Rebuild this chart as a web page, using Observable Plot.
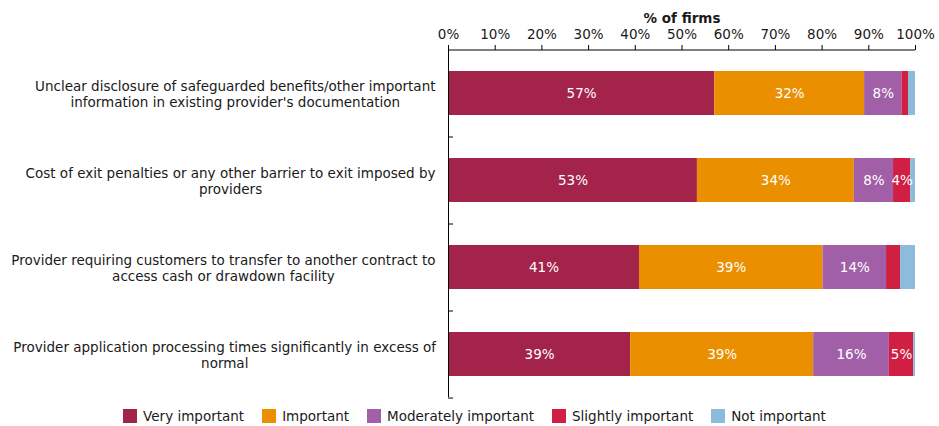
<!DOCTYPE html>
<html>
<head>
<meta charset="utf-8">
<script src="https://cdn.jsdelivr.net/npm/d3@7"></script>
<script src="https://cdn.jsdelivr.net/npm/@observablehq/plot@0.6"></script>
<style>
  html, body { margin: 0; padding: 0; background: #fff; }
  body { font-family: "DejaVu Sans", Verdana, sans-serif; width: 939px; }
  .leg-swatches-wrap { justify-content: center !important; min-height: 31px !important; margin: 0 !important; padding-left: 10px; font-size: 13.5px !important; font-family: "DejaVu Sans", Verdana, sans-serif !important; color: #1a1a1a; }
  .leg-swatch { margin-right: 18px !important; }
  .leg-swatch:last-child { margin-right: 0 !important; }
  .leg-swatch > svg { margin-right: 6px !important; }
</style>
</head>
<body>
<div id="chart"></div>
<script>
const categories = [
  "Unclear disclosure of safeguarded benefits/other important\ninformation in existing provider's documentation",
  "Cost of exit penalties or any other barrier to exit imposed by\nproviders",
  "Provider requiring customers to transfer to another contract to\naccess cash or drawdown facility",
  "Provider application processing times significantly in excess of\nnormal"
];
const levels = ["Very important", "Important", "Moderately important", "Slightly important", "Not important"];
const colors = ["#a3234a", "#e98f00", "#a15fa8", "#d01f42", "#8bbcdc"];

const veryImportant       = [57.0, 53.3, 40.9, 39.0];
const important           = [32.1, 33.6, 39.3, 39.2];
const moderatelyImportant = [8.0, 8.4, 13.6, 16.2];
const slightlyImportant   = [1.4, 3.7, 3.0, 5.2];
const notImportant        = [1.5, 1.0, 3.2, 0.4];

const xTicks = [0, 10, 20, 30, 40, 50, 60, 70, 80, 90, 100];
const xTitle = "% of firms";

const series = [veryImportant, important, moderatelyImportant, slightlyImportant, notImportant];
const data = categories.flatMap((c, i) => levels.map((l, j) => ({category: c, level: l, value: series[j][i]})));

const chart = Plot.plot({
  width: 939,
  height: 400,
  marginTop: 49,
  marginBottom: 3,
  marginLeft: 448,
  marginRight: 24,
  style: {fontFamily: "DejaVu Sans, Verdana, sans-serif", fontSize: "13px", color: "#1a1a1a", background: "#fff"},
  x: {domain: [0, 100]},
  y: {domain: categories, paddingInner: 0.5, paddingOuter: 0.25},
  color: {domain: levels, range: colors},
  marks: [
    Plot.barX(data, Plot.stackX({x: "value", y: "category", fill: "level"})),
    Plot.text(data, Plot.stackX({
      x: "value", y: "category", z: "level",
      text: d => d.value >= 3.5 ? Math.round(d.value) + "%" : "",
      fill: "white", fontSize: 13.5
    })),
    Plot.ruleX([0], {stroke: "#000", strokeWidth: 1}),
    Plot.ruleY([categories[0]], {dy: -43.5, stroke: "#000", strokeWidth: 1}),
    Plot.axisX({anchor: "top", ticks: xTicks, tickFormat: d => d + "%", tickSize: 5, tickPadding: 6, label: null, fontSize: 13.5, stroke: "#000", fill: "#1a1a1a"}),
    Plot.text([xTitle], {frameAnchor: "top", lineAnchor: "middle", dy: -31, fontWeight: "bold", fontSize: 13.5, fill: "#1a1a1a"}),
    Plot.axisY({anchor: "left", tickSize: 0, tickPadding: 13, label: null, lineWidth: Infinity, lineHeight: 1.2, fontSize: 13.5, fill: "#1a1a1a"}),
    Plot.axisY({anchor: "left", tickSize: 5, dx: 5, dy: 43.5, tickFormat: () => "", label: null, stroke: "#000"})
  ]
});

const legend = Plot.legend({
  color: {domain: levels, range: colors},
  swatchSize: 14,
  className: "leg"
});

const host = document.getElementById("chart");
host.appendChild(chart);
host.appendChild(legend);

// center each multi-line y-axis label on its widest line, right-aligned block
chart.querySelectorAll('g[aria-label="y-axis tick label"] text').forEach(t => {
  if (!t.textContent) return;
  const bb = t.getBBox();
  const cx = bb.x + bb.width / 2;
  t.setAttribute("text-anchor", "middle");
  const spans = t.querySelectorAll("tspan");
  if (spans.length) spans.forEach(s => s.setAttribute("x", cx));
  else t.setAttribute("x", cx);
});
</script>
</body>
</html>
